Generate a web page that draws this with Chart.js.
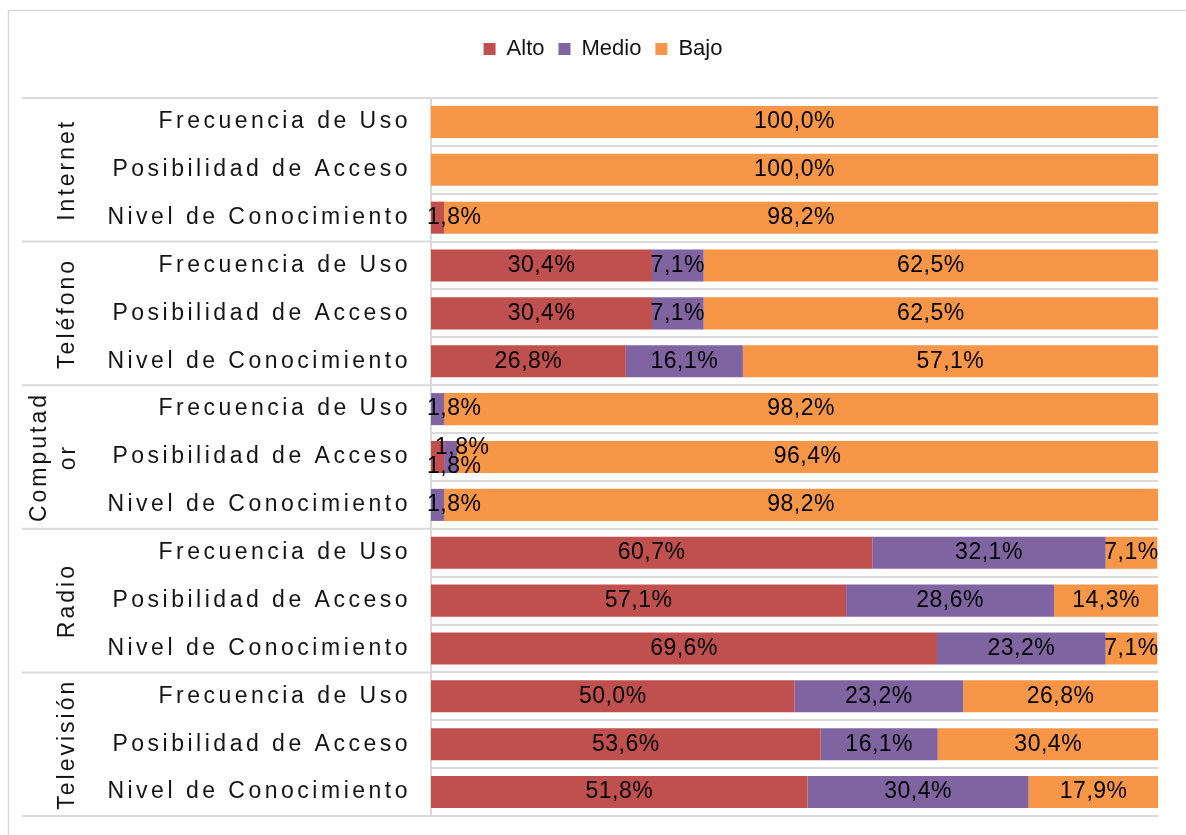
<!DOCTYPE html>
<html>
<head>
<meta charset="utf-8">
<script src="https://cdn.jsdelivr.net/npm/chart.js@4.4.0/dist/chart.umd.min.js"></script>
<style>
  html, body { margin: 0; padding: 0; background: #fff; }
</style>
</head>
<body>
<canvas id="grafico" width="1186" height="835"></canvas>
<script>
// Grupos (medios) y aspectos evaluados
const grupos = ["Internet", "Teléfono", "Computador", "Radio", "Televisión"];
const etiquetasGrupo = [["Internet"], ["Teléfono"], ["Computad", "or"], ["Radio"], ["Televisión"]];
const aspectos = ["Frecuencia de Uso", "Posibilidad de Acceso", "Nivel de Conocimiento"];

// Porcentajes por fila (5 grupos x 3 aspectos)
const alto  = [0, 0, 1.8,   30.4, 30.4, 26.8,  0, 1.8, 0,      60.7, 57.1, 69.6,  50.0, 53.6, 51.8];
const medio = [0, 0, 0,     7.1, 7.1, 16.1,    1.8, 1.8, 1.8,  32.1, 28.6, 23.2,  23.2, 16.1, 30.4];
const bajo  = [100, 100, 98.2, 62.5, 62.5, 57.1, 98.2, 96.4, 98.2, 7.1, 14.3, 7.1, 26.8, 30.4, 17.9];

const categorias = [];
grupos.forEach(() => aspectos.forEach(a => categorias.push(a)));

const FUENTE = "'Liberation Sans', Arial, sans-serif";
const GRIS = "#d9d9d9";

function formato(v) {
  return v.toFixed(1).replace(".", ",") + "%";
}

// Marco exterior, líneas de grupo y etiquetas del eje
const ejeDoble = {
  id: "ejeDoble",
  beforeDraw(chart) {
    const c = chart.ctx;
    c.save();
    c.fillStyle = "#fff";
    c.fillRect(0, 0, chart.width, chart.height);
    c.strokeStyle = GRIS;
    c.lineWidth = 1.5;
    c.strokeRect(8.5, 10.5, chart.width + 20, chart.height + 20);
    c.restore();
  },
  afterDraw(chart) {
    const c = chart.ctx;
    const y = chart.scales.y;
    const area = chart.chartArea;
    const paso = Math.abs(y.getPixelForValue(1) - y.getPixelForValue(0));
    c.save();
    // líneas separadoras de grupos
    c.strokeStyle = GRIS;
    c.lineWidth = 2;
    for (let g = 0; g <= grupos.length; g++) {
      const py = y.getPixelForValue(g * aspectos.length) - paso / 2;
      c.beginPath();
      c.moveTo(22, py);
      c.lineTo(area.left, py);
      c.stroke();
    }
    // etiquetas de aspectos
    c.fillStyle = "#141414";
    c.font = "23px " + FUENTE;
    c.letterSpacing = "3.5px";
    c.textAlign = "right";
    c.textBaseline = "middle";
    categorias.forEach((lab, i) => {
      c.fillText(lab, area.left - 20, y.getPixelForValue(i));
    });
    // etiquetas de grupo (verticales)
    c.letterSpacing = "3px";
    c.textAlign = "center";
    etiquetasGrupo.forEach((lineas, g) => {
      const centro = (y.getPixelForValue(g * 3) + y.getPixelForValue(g * 3 + 2)) / 2;
      const x0 = lineas.length > 1 ? 40 : 68;
      lineas.forEach((txt, k) => {
        c.save();
        c.translate(x0 + k * 29, centro);
        c.rotate(-Math.PI / 2);
        c.fillText(txt, 0, 0);
        c.restore();
      });
    });
    c.restore();
  },
  afterDatasetsDraw(chart) {
    const c = chart.ctx;
    const area = chart.chartArea;
    c.save();
    c.fillStyle = "#000";
    c.font = "23px " + FUENTE;
    c.letterSpacing = "0.5px";
    c.textAlign = "center";
    c.textBaseline = "middle";
    chart.data.datasets.forEach((ds, di) => {
      const meta = chart.getDatasetMeta(di);
      meta.data.forEach((bar, i) => {
        const v = ds.data[i];
        if (!v) return;
        const txt = formato(v);
        const w = c.measureText(txt).width;
        let x = (bar.base + bar.x) / 2;
        x = Math.max(x, area.left + w / 2 - 4);
        // dos segmentos pequeños en la misma barra: se separan
        const pequenos = chart.data.datasets.filter(d => d.data[i] > 0 && d.data[i] < 5).length;
        let dy = 0;
        if (pequenos > 1 && v < 5) dy = di === 0 ? 10 : -9;
        if (dy < 0) x += 8;
        c.fillText(txt, x, bar.y + dy);
      });
    });
    c.restore();
  }
};

new Chart(document.getElementById("grafico"), {
  type: "bar",
  data: {
    labels: categorias,
    datasets: [
      { label: "Alto",  data: alto,  backgroundColor: "#c0504d" },
      { label: "Medio", data: medio, backgroundColor: "#8064a2" },
      { label: "Bajo",  data: bajo,  backgroundColor: "#f79646" }
    ]
  },
  options: {
    indexAxis: "y",
    responsive: false,
    animation: false,
    datasets: { bar: { barPercentage: 0.67, categoryPercentage: 1 } },
    layout: { padding: { top: 24, left: 48, right: 28, bottom: 19 } },
    scales: {
      x: {
        stacked: true,
        min: 0,
        max: 100,
        position: "top",
        ticks: { display: false },
        grid: { display: false },
        border: { display: false },
        afterFit: s => { s.height = 28; }
      },
      y: {
        stacked: true,
        ticks: { display: false },
        grid: { color: GRIS, lineWidth: 2, drawTicks: false, offset: true },
        border: { color: GRIS, width: 2 },
        afterFit: s => { s.width = 383; }
      }
    },
    plugins: {
      legend: {
        position: "top",
        labels: {
          boxWidth: 12,
          boxHeight: 12,
          padding: 14,
          color: "#141414",
          font: { family: FUENTE, size: 22 }
        }
      },
      tooltip: { enabled: false }
    }
  },
  plugins: [ejeDoble]
});
</script>
</body>
</html>
